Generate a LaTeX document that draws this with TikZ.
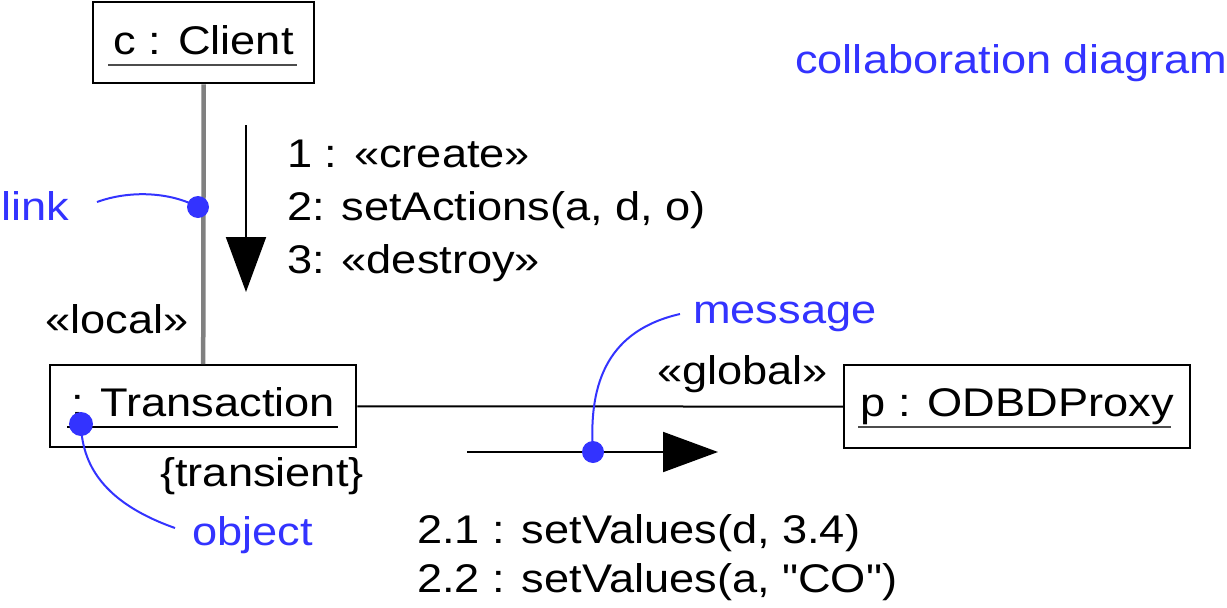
\documentclass[tikz,border=0pt]{standalone}
\usepackage{fontspec}
\setmainfont{Liberation Sans}[FakeStretch=1.13]
\newfontfamily\plainquotes{Liberation Sans}[FakeStretch=1.13]
\usetikzlibrary{arrows.meta}
\definecolor{noteblue}{RGB}{51,51,255}
\definecolor{linkgray}{RGB}{128,128,128}
\begin{document}
\begin{tikzpicture}[x=1pt,y=-1pt,
  every node/.style={font=\fontsize{40}{48}\selectfont},
  obj/.style={draw=black, line width=2.4pt, inner sep=0pt, anchor=north west},
  lbl/.style={inner sep=0pt, anchor=base west},
  note/.style={lbl, text=noteblue},
  dot/.style={circle, fill=noteblue, inner sep=0pt, minimum size=22pt},
  notecurve/.style={draw=noteblue, line width=2pt},
  ul/.style={line width=2.8pt, draw=black!70},
  msgarrow/.style={line width=2pt, -{Triangle[length=55pt,width=40pt]}},
  linkline/.style={line width=2pt}]
\useasboundingbox (0,0) rectangle (1227,608);

% objects
\node[obj, minimum width=221pt, text height=52pt, text depth=29pt] (client) at (92,1) {c : Client};
\node[obj, minimum width=306pt, text height=51pt, text depth=31pt] (trans) at (49,364) {: Transaction};
\node[obj, minimum width=346pt, text height=51pt, text depth=32pt] (proxy) at (843,364) {p : ODBDProxy};
\draw[ul] (108,65) -- (297,65);
\draw[ul, draw=black, line width=2.4pt] (67,427) -- (338,427);
\draw[ul] (858,427) -- (1171,427);

% links
\draw[line width=4.5pt, draw=linkgray] (client.south) -- (trans.north);
\draw[linkline] (trans) -- (proxy);

% messages
\coordinate (m1a) at (246,125);
\coordinate (m1b) at (246,292);
\draw[msgarrow] (m1a) -- (m1b);
\coordinate (m2a) at (467,452);
\coordinate (m2b) at (718,452);
\draw[msgarrow] (m2a) -- (m2b);

% labels
\node[lbl] (m1) at (287,167) {1 : «create»};
\node[lbl] (m2) at (287,220) {2: setActions(a, d, o)};
\node[lbl] (m3) at (287,273) {3: «destroy»};
\node[lbl] (local) at (45,333) {«local»};
\node[lbl] (global) at (657,384) {«global»};
\node[lbl] (transient) at (160,486) {\{transient\}};
\node[lbl] (m21) at (417,543) {2.1 : setValues(d, 3.4)};
\node[lbl] (m22) at (417,592) {\plainquotes 2.2 : setValues(a, "CO")};

% notes
\node[note] (title) at (795,73) {collaboration diagram};
\node[note] (linkt) at (1,220) {link};
\node[note] (objt) at (192,545) {object};
\node[note] (msgt) at (693,323) {message};

\node[dot] (linkdot) at (198,207) {};
\node[dot, minimum size=24pt] (objdot) at (81,424) {};
\node[dot] (msgdot) at (593,452) {};

\coordinate (linkc) at (97,202);
\coordinate (objc) at (175,528);
\coordinate (msgc) at (680,314);
\draw[notecurve] (linkc) .. controls (130,190) and (170,192) .. (linkdot.center);
\draw[notecurve] (objdot.center) .. controls (82,470) and (110,505) .. (objc);
\draw[notecurve] (msgdot.center) .. controls (588,380) and (610,330) .. (msgc);
\end{tikzpicture}
\end{document}
